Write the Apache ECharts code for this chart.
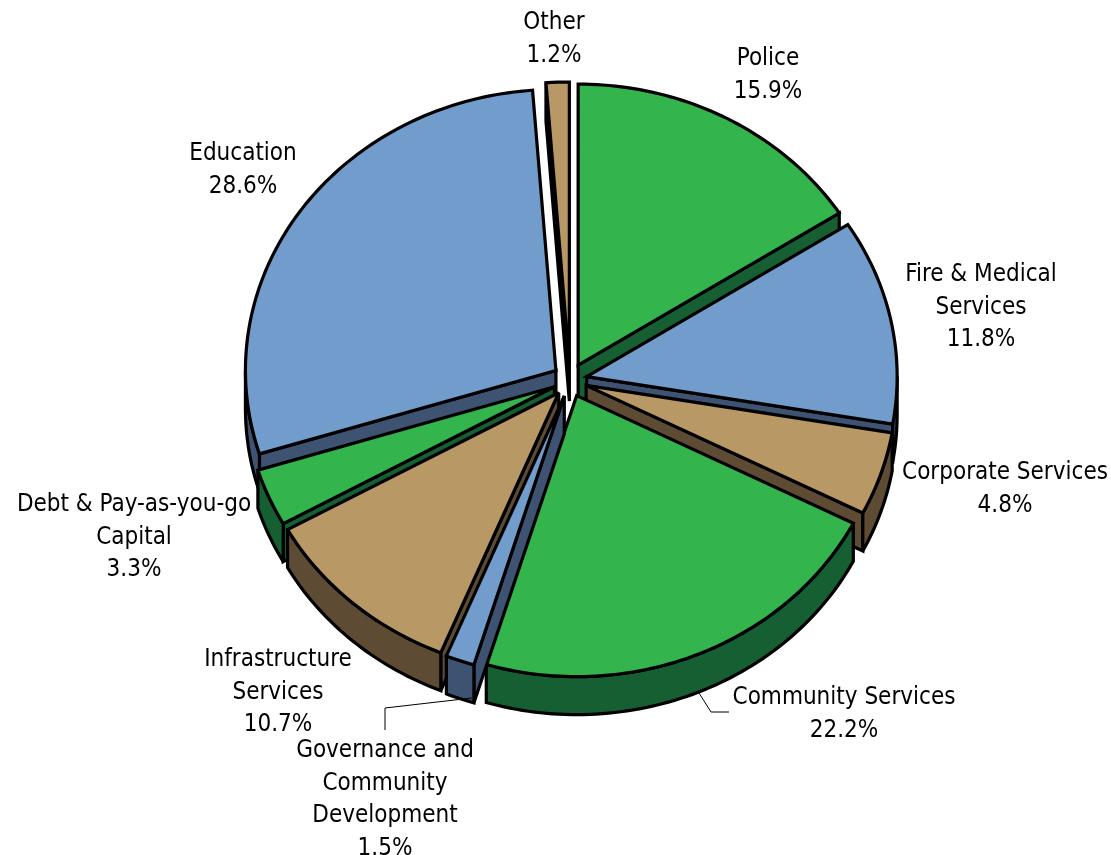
<!DOCTYPE html>
<html>
<head>
<meta charset="utf-8">
<style>html,body{margin:0;padding:0;background:#fff}#chart{width:1111px;height:855px}</style>
<script src="https://cdn.jsdelivr.net/npm/echarts@6/dist/echarts.min.js"></script>
</head>
<body>
<div id="chart"></div>
<script>
// Budget shares, clockwise from twelve o'clock
const categories = ['Police', 'Fire & Medical\nServices', 'Corporate Services', 'Community Services',
  'Governance and\nCommunity\nDevelopment', 'Infrastructure\nServices', 'Debt & Pay-as-you-go\nCapital',
  'Education', 'Other'];
const shares = [15.9, 11.8, 4.8, 22.2, 1.5, 10.7, 3.3, 28.6, 1.2];
const colourGroups = ['green', 'blue', 'tan', 'green', 'blue', 'tan', 'green', 'blue', 'tan'];

// Top face and wall colour for each group
const palette = {
  green: { top: '#33B44C', wall: '#165F33' },
  blue: { top: '#729CCB', wall: '#3E5272' },
  tan: { top: '#B89864', wall: '#5E4B33' }
};

// Tilted pie geometry
const pie = { cx: 570, cy: 380, rx: 310.5, ry: 281, depth: 38, explode: 17 };
const outline = { stroke: '#000', lineWidth: 3.2, lineJoin: 'miter', miterLimit: 3 };

// Label centres: x, and y of the first line
const labelAnchors = [[768, 59], [981, 275], [1005, 473], [844, 698], [385, 751], [278, 660], [134, 505], [243, 154], [554, 23]];
const lineHeight = 32.5;
const fontFamily = '"DejaVu Sans Condensed", "DejaVu Sans", sans-serif';
const fontSize = 24;

const total = shares.reduce((a, b) => a + b, 0);
const TAU = Math.PI * 2;

// Slice angles measured clockwise from the top
let running = 0;
const slices = shares.map((v, i) => {
  const a0 = running / total * TAU;
  running += v;
  const a1 = running / total * TAU;
  return { index: i, a0, a1, mid: (a0 + a1) / 2 };
});

// Paint the slices from the back of the pie to the front
const paintOrder = slices.slice().sort((p, q) => Math.cos(q.mid) - Math.cos(p.mid)).map(s => s.index);

function rim(slice, angle, drop) {
  return [
    pie.cx + pie.explode * Math.sin(slice.mid) + pie.rx * Math.sin(angle),
    pie.cy - pie.explode * Math.cos(slice.mid) - pie.ry * Math.cos(angle) + drop
  ];
}

function apex(slice, drop) {
  return [
    pie.cx + pie.explode * Math.sin(slice.mid),
    pie.cy - pie.explode * Math.cos(slice.mid) + drop
  ];
}

function arcPoints(slice, from, to, drop) {
  const steps = Math.max(2, Math.ceil(Math.abs(to - from) / 0.02));
  const pts = [];
  for (let k = 0; k <= steps; k++) pts.push(rim(slice, from + (to - from) * k / steps, drop));
  return pts;
}

function poly(points, fill) {
  return { type: 'polygon', shape: { points }, style: Object.assign({ fill }, outline), silent: true };
}

function renderSlice(params, api) {
  const slice = slices[api.value(0)];
  const colours = palette[colourGroups[slice.index]];
  const children = [];

  // Radial walls that face the viewer
  if (Math.sin(slice.a0) < 0) {
    children.push(poly([apex(slice, 0), rim(slice, slice.a0, 0), rim(slice, slice.a0, pie.depth), apex(slice, pie.depth)], colours.wall));
  }
  if (Math.sin(slice.a1) > 0) {
    children.push(poly([apex(slice, 0), rim(slice, slice.a1, 0), rim(slice, slice.a1, pie.depth), apex(slice, pie.depth)], colours.wall));
  }

  // Outer wall: only the part on the near half of the ellipse
  const from = Math.max(slice.a0, Math.PI / 2);
  const to = Math.min(slice.a1, Math.PI * 1.5);
  if (to > from) {
    children.push(poly(arcPoints(slice, from, to, 0).concat(arcPoints(slice, to, from, pie.depth)), colours.wall));
  }

  // Top face
  children.push(poly([apex(slice, 0)].concat(arcPoints(slice, slice.a0, slice.a1, 0)), colours.top));
  return { type: 'group', children };
}

const labelElements = categories.map((name, i) => ({
  type: 'text',
  x: labelAnchors[i][0],
  y: labelAnchors[i][1] - lineHeight / 2,
  style: {
    text: name + '\n' + shares[i].toFixed(1) + '%',
    fill: '#000',
    font: fontSize + 'px ' + fontFamily,
    lineHeight,
    textAlign: 'center',
    textVerticalAlign: 'top'
  },
  silent: true,
  z: 10
}));

// Thin leader lines for the two labels set away from their slices
const leader = pts => ({ type: 'polyline', shape: { points: pts }, style: { stroke: '#000', lineWidth: 1, fill: null }, silent: true, z: 9 });

const chart = echarts.init(document.getElementById('chart'), null, { renderer: 'canvas' });
chart.setOption({
  backgroundColor: '#fff',
  animation: false,
  series: [{
    type: 'custom',
    coordinateSystem: 'none',
    renderItem: renderSlice,
    data: paintOrder.map(i => [i]),
    silent: true
  }],
  graphic: { elements: labelElements.concat([
    leader([[472, 698], [385, 708], [385, 730]]),
    leader([[699, 693], [711, 712], [729, 712]])
  ]) }
});
</script>
</body>
</html>
